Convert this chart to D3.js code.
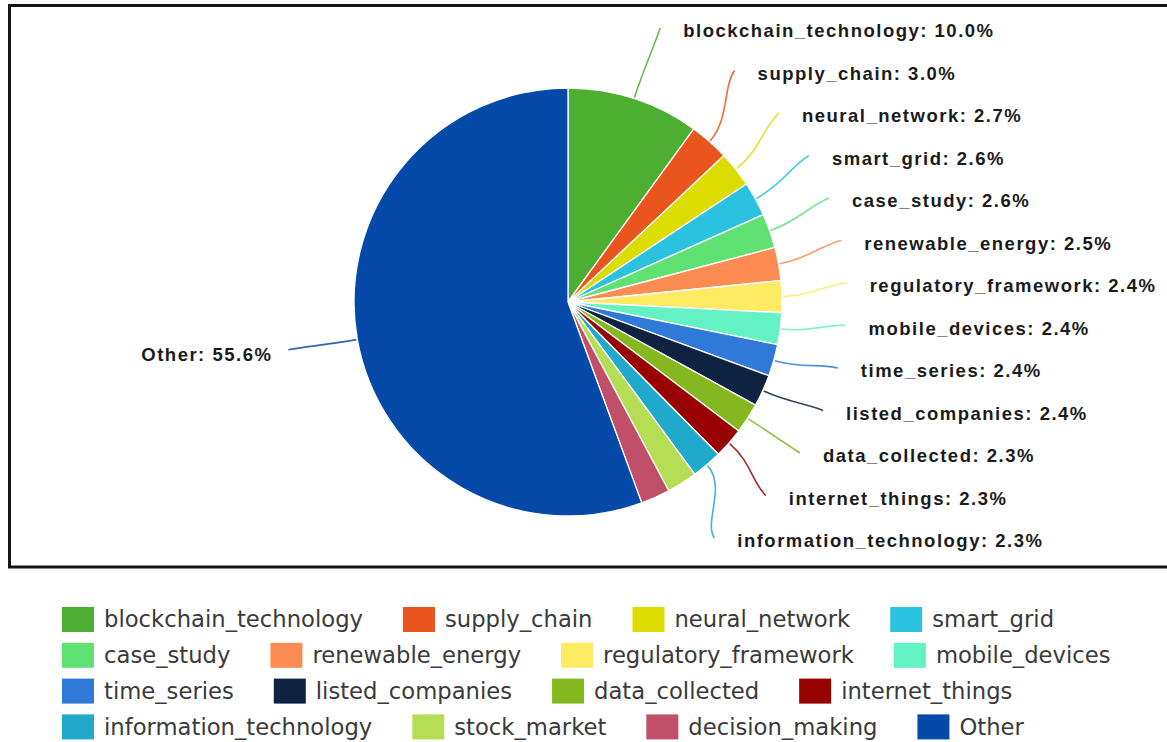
<!DOCTYPE html>
<html>
<head>
<meta charset="utf-8">
<script src="https://cdn.jsdelivr.net/npm/d3@7"></script>
<style>
  body { margin: 0; background: #ffffff; }
  svg { display: block; }
</style>
</head>
<body>
<svg id="chart" width="1167" height="742"></svg>
<script>
// Keyword shares (percent of all occurrences)
const categories = [
  "blockchain_technology", "supply_chain", "neural_network", "smart_grid",
  "case_study", "renewable_energy", "regulatory_framework", "mobile_devices",
  "time_series", "listed_companies", "data_collected", "internet_things",
  "information_technology", "stock_market", "decision_making", "Other"
];
const shares = [10.0, 3.0, 2.7, 2.6, 2.6, 2.5, 2.4, 2.4, 2.4, 2.4, 2.3, 2.3, 2.3, 2.3, 2.2, 55.6];
const colors = [
  "#4caf32", "#e9551d", "#dcdc00", "#2bc2e0",
  "#5fe273", "#fc8c52", "#ffeb62", "#63f2c4",
  "#2f7ad8", "#0e2342", "#85b81f", "#990203",
  "#1fa9cb", "#b5de55", "#c14f6a", "#064aa9"
];
const legendColumns = 4;

const data = categories.map((name, i) => ({ name, share: shares[i], color: colors[i] }));

const svg = d3.select("#chart");

// Outer frame
svg.append("rect")
  .attr("x", 9.5).attr("y", 5.5)
  .attr("width", 1180).attr("height", 561.5)
  .attr("fill", "none").attr("stroke", "#151515").attr("stroke-width", 3);

const cx = 568, cy = 302, R = 214;
const g = svg.append("g").attr("transform", `translate(${cx},${cy})`);

const pie = d3.pie().sort(null).value(d => d.share);
const arcs = pie(data);
const arc = d3.arc().innerRadius(0).outerRadius(R);

g.selectAll("path.slice")
  .data(arcs)
  .join("path")
  .attr("class", "slice")
  .attr("d", arc)
  .attr("fill", d => d.data.color)
  .attr("stroke", "#ffffff")
  .attr("stroke-width", 1.3)
  .attr("stroke-linejoin", "round");

// Label placement: right-hand labels stacked in a column that follows an ellipse,
// left-hand labels placed out along the slice angle.
const mid = d => (d.startAngle + d.endAngle) / 2;
const polar = (r, a) => [r * Math.sin(a), -r * Math.cos(a)];

const rightArcs = arcs.filter(d => mid(d) < Math.PI * 0.8);
const leftArcs = arcs.filter(d => mid(d) > Math.PI);

const rowTop = 31 - cy, rowStep = 42.5;
const ellA = 302, ellB = 291, ellCy = -2;

const labels = [];
rightArcs.forEach((d, i) => {
  const ly = rowTop + i * rowStep;
  const t = (ly - ellCy) / ellB;
  const lx = ellA * Math.sqrt(Math.max(0, 1 - t * t));
  labels.push({ d, side: "right", tx: lx, ty: ly, ex: lx - 23, ey: ly - 3 });
});
leftArcs.forEach(d => {
  const [ax, ay] = polar(R + 70, mid(d));
  labels.push({ d, side: "left", tx: ax - 16, ty: ay + 3, ex: ax, ey: ay - 2 });
});

const fmt = d3.format(".1f");

// Leader lines: leave the slice radially, bend, and arrive pointing outward
g.selectAll("path.leader")
  .data(labels)
  .join("path")
  .attr("class", "leader")
  .attr("fill", "none")
  .attr("stroke", l => l.d.data.color)
  .attr("stroke-opacity", 0.85)
  .attr("stroke-width", 1.6)
  .attr("d", l => {
    const a = mid(l.d);
    const [x0, y0] = polar(R + 1, a);
    const [x1, y1] = polar(R + 30, a);
    const len = Math.hypot(l.ex, l.ey);
    const x2 = l.ex - 20 * l.ex / len, y2 = l.ey - 20 * l.ey / len;
    const p = d3.path();
    p.moveTo(x0, y0);
    p.bezierCurveTo(x1, y1, x2, y2, l.ex, l.ey);
    return p.toString();
  });

g.selectAll("text.plabel")
  .data(labels)
  .join("text")
  .attr("class", "plabel")
  .attr("x", l => l.tx)
  .attr("y", l => l.ty)
  .attr("dy", "0.35em")
  .attr("text-anchor", l => l.side === "right" ? "start" : "end")
  .attr("font-family", "'Liberation Sans', Arial, sans-serif")
  .attr("font-weight", "bold")
  .attr("font-size", 18.5)
  .attr("letter-spacing", "1.5px")
  .attr("fill", "#1b1b1b")
  .text(l => `${l.d.data.name}: ${fmt(l.d.data.share)}%`);

// Legend: rows of four entries, each laid out left to right by text width
const legend = svg.append("g");
const legX = 62, legY = 607, legRowStep = 35.8, swW = 32, swH = 25, swGap = 10, itemGap = 40;
d3.range(Math.ceil(data.length / legendColumns)).forEach(r => {
  let x = legX;
  data.slice(r * legendColumns, (r + 1) * legendColumns).forEach(d => {
    const y = legY + r * legRowStep;
    legend.append("rect")
      .attr("x", x).attr("y", y)
      .attr("width", swW).attr("height", swH)
      .attr("fill", d.color);
    const t = legend.append("text")
      .attr("x", x + swW + swGap)
      .attr("y", y + swH / 2)
      .attr("dy", "0.35em")
      .attr("font-family", "'DejaVu Sans', Verdana, sans-serif")
      .attr("font-size", 22.7)
      .attr("fill", "#3a3a3a")
      .text(d.name);
    x += swW + swGap + t.node().getComputedTextLength() + itemGap;
  });
});
</script>
</body>
</html>
